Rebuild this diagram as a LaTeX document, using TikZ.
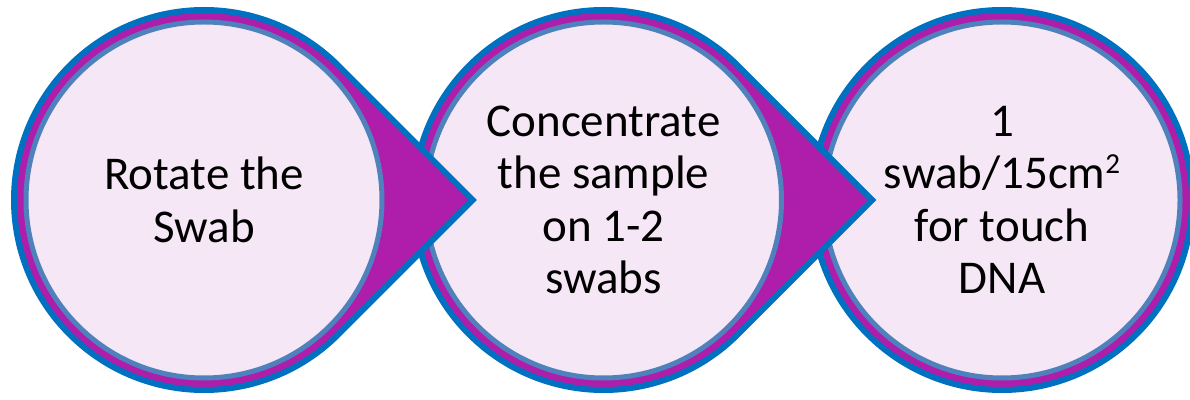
\documentclass[tikz,border=0pt]{standalone}
\usepackage{fontspec}
\setmainfont{Carlito}
\usetikzlibrary{calc}
\definecolor{outerblue}{HTML}{0070C0}
\definecolor{ringpurple}{HTML}{AF1EAA}
\definecolor{innerpink}{HTML}{F5E7F5}
\definecolor{innerring}{HTML}{4F81BD}
\newcommand{\mysup}[1]{\raisebox{15pt}{\fontsize{29}{29}\selectfont #1}}
\begin{document}
\begin{tikzpicture}[x=1pt,y=1pt,
  teardrop/.style={fill=ringpurple,draw=outerblue,line width=6pt,line join=miter},
  disc/.style={circle,fill=innerpink,draw=innerring,line width=5pt,minimum size=356pt,inner sep=0pt,
    font=\fontsize{47}{52.5}\selectfont,align=center,text=black}]
\useasboundingbox (0,0) rectangle (1190,399);
\def\R{190}
% step 3 (drawn first, lies underneath; no arrow)
\coordinate (c3) at (1002,199);
\draw[teardrop] (c3) circle[radius=\R];
\node[disc] (n3) at (c3) {1\\swab/15cm\mysup{2}\\for touch\\DNA};
% step 2
\coordinate (c2) at (603.5,199);
\draw[teardrop] (c2) ++(45:\R) arc[start angle=45,end angle=315,radius=\R] -- ($(c2)+(268.7,0)$) coordinate (t2) -- cycle;
\node[disc] (n2) at (c2) {Concentrate\\the sample\\on 1-2\\swabs};
% step 1 (on top)
\coordinate (c1) at (204,199);
\draw[teardrop] (c1) ++(45:\R) arc[start angle=45,end angle=315,radius=\R] -- ($(c1)+(268.7,0)$) coordinate (t1) -- cycle;
\node[disc] (n1) at (c1) {Rotate the\\Swab};
\end{tikzpicture}
\end{document}
